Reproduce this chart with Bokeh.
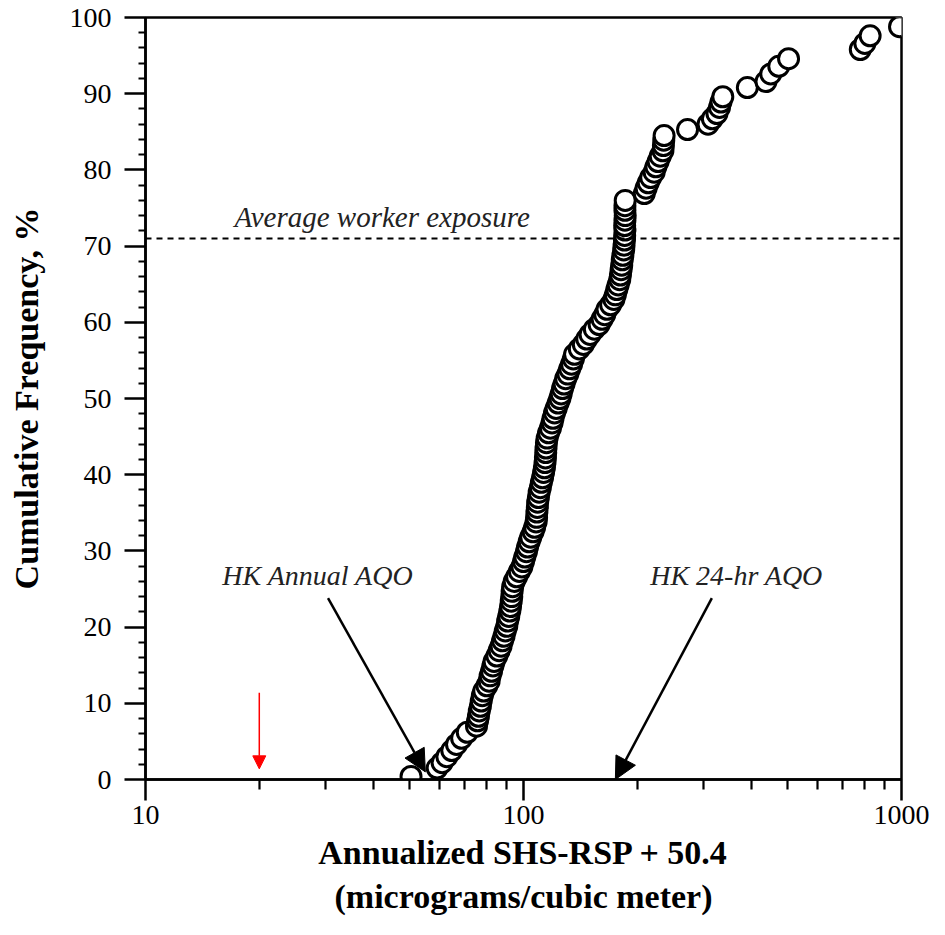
from bokeh.plotting import figure
from bokeh.models import (Range1d, FixedTicker, Span, Label, Arrow, NormalHead,
                          BasicTickFormatter, ColumnDataSource)
from bokeh.embed import file_html
from bokeh.resources import INLINE

# ---- data ----
shs_rsp = [
    50.4, 59.1, 60.9, 62.7, 64.6, 66.5, 68.6, 71.0,
    75.1, 75.6, 76.0, 76.4, 76.9, 77.3, 77.8, 78.5,
    80.0, 81.1, 81.6, 82.3, 83.0, 83.6, 85.0, 86.2, 87.2, 88.0,
    88.8, 89.5, 90.3, 90.8, 91.4, 92.0, 92.4, 92.8, 93.1, 93.3,
    93.6, 94.5, 95.9, 97.5, 99.0, 100.0, 100.8, 101.8, 102.5, 103.5,
    104.5, 106.0, 107.0, 108.0, 108.3, 108.5, 108.8, 109.0, 109.5, 110.0,
    110.8, 111.5, 112.3, 113.0, 113.6, 114.0, 114.3, 114.5, 114.7, 115.0,
    115.5, 116.5, 117.8, 119.0, 119.7, 120.8, 122.0, 123.5, 124.8, 125.8,
    126.8, 128.0, 129.3, 131.0, 132.5, 134.0, 135.5, 136.5, 140.5, 144.0,
    147.0, 150.0, 154.0, 158.5, 161.4, 164.0, 166.3, 170.0, 173.4, 175.0,
    176.5, 178.0, 179.7, 180.5, 181.2, 181.9, 182.5, 183.2, 184.1, 184.5,
    185.0, 185.2, 185.5, 185.2, 185.5, 185.8, 185.5, 185.5, 185.8,
    208.7, 211.0, 213.8, 217.0, 221.6, 224.0, 227.0, 230.0, 233.8, 234.5, 235.0, 235.5,
    271.6, 307.8, 316.0, 324.9, 330.0, 333.0, 336.7,
    391.0, 438.0, 451.0, 473.5, 502.6,
    778.0, 800.0, 826.0, 988.0,
]
cum_freq = [
    0.4, 1.5, 2.2, 3.0, 3.8, 4.6, 5.4, 6.2,
    7.0, 7.7, 8.3, 9.0, 9.6, 10.3, 11.0, 11.6,
    12.3, 12.9, 13.6, 14.2, 14.9, 15.5, 16.2, 16.9, 17.5, 18.2,
    18.8, 19.5, 20.1, 20.8, 21.4, 22.1, 22.7, 23.4, 24.0, 24.7,
    25.3, 26.0, 26.6, 27.3, 27.9, 28.6, 29.2, 29.9, 30.5, 31.2,
    31.8, 32.5, 33.1, 33.8, 34.4, 35.1, 35.7, 36.4, 37.0, 37.7,
    38.3, 39.0, 39.6, 40.3, 40.9, 41.6, 42.2, 42.9, 43.5, 44.2,
    44.8, 45.5, 46.1, 46.8, 47.4, 48.1, 48.7, 49.4, 50.0, 50.6,
    51.3, 51.9, 52.6, 53.2, 53.9, 54.5, 55.2, 55.8, 56.5, 57.1,
    57.8, 58.4, 59.1, 59.7, 60.4, 61.0, 61.7, 62.3, 63.0, 63.6,
    64.3, 64.9, 65.6, 66.2, 66.9, 67.5, 68.2, 68.8, 69.5, 70.1,
    70.8, 71.4, 72.1, 72.7, 73.4, 74.0, 74.7, 75.3, 76.0,
    76.9, 77.6, 78.3, 79.0, 79.7, 80.4, 81.1, 81.8, 82.5, 83.2, 83.9, 84.5,
    85.3, 86.0, 86.7, 87.4, 88.2, 88.9, 89.6,
    90.8, 91.6, 92.6, 93.6, 94.6,
    95.8, 96.6, 97.6, 98.8,
]

x_major_ticks = [10, 100, 1000]
x_minor_ticks = [20, 30, 40, 50, 60, 70, 80, 90, 200, 300, 400, 500, 600, 700, 800, 900]
y_major_ticks = [0, 10, 20, 30, 40, 50, 60, 70, 80, 90, 100]
y_minor_ticks = [v for v in range(0, 101, 2) if v % 10]

avg_worker_exposure = 71
hk_annual_aqo = 55
hk_24hr_aqo = 175

SERIF = "Liberation Serif"

p = figure(width=929, height=919, x_axis_type="log",
           x_range=Range1d(10, 1000), y_range=Range1d(0, 100),
           output_backend="svg", toolbar_location=None,
           min_border_left=145, min_border_right=28,
           min_border_top=17, min_border_bottom=140)
p.background_fill_color = "white"
p.border_fill_color = "white"
p.xgrid.visible = False
p.ygrid.visible = False
p.outline_line_color = "black"
p.outline_line_width = 2.5

for ax in (p.xaxis[0], p.yaxis[0]):
    ax.axis_line_width = 2.5
    ax.axis_line_color = "black"
    ax.major_tick_line_width = 2.5
    ax.minor_tick_line_width = 2.2
    ax.major_tick_in = 0
    ax.minor_tick_in = 0
    ax.major_tick_out = 21
    ax.major_label_text_font = SERIF
    ax.major_label_text_font_size = "28px"
    ax.major_label_text_color = "black"
    ax.axis_label_text_font = SERIF
    ax.axis_label_text_font_style = "bold"
    ax.axis_label_text_font_size = "34px"
    ax.axis_label_text_color = "black"

p.xaxis.ticker = FixedTicker(ticks=x_major_ticks, minor_ticks=x_minor_ticks)
p.xaxis.formatter = BasicTickFormatter()
p.xaxis.minor_tick_out = 10
p.xaxis.major_label_standoff = 5
p.xaxis.axis_label = "Annualized SHS-RSP + 50.4\n(micrograms/cubic meter)"
p.xaxis.axis_label_standoff = 7

p.yaxis.ticker = FixedTicker(ticks=y_major_ticks, minor_ticks=y_minor_ticks)
p.yaxis.minor_tick_out = 7
p.yaxis.major_label_standoff = 13
p.yaxis.axis_label = "Cumulative Frequency, %"
p.yaxis.axis_label_standoff = 22

p.add_layout(Span(location=avg_worker_exposure, dimension="width",
                  line_color="black", line_width=2.2, line_dash="6 5"))

src = ColumnDataSource(data=dict(x=shs_rsp, y=cum_freq))
p.scatter("x", "y", source=src, size=20, fill_color="white",
          line_color="black", line_width=3)

p.add_layout(Label(x=17.2, y=73.8, text="Average worker exposure",
                   text_font=SERIF, text_font_style="italic",
                   text_font_size="29px", text_color="#222222",
                   text_align="left", text_baseline="alphabetic"))
p.add_layout(Label(x=28.6, y=26.8, text="HK Annual AQO",
                   text_font=SERIF, text_font_style="italic",
                   text_font_size="28px", text_color="#222222",
                   text_align="center", text_baseline="alphabetic"))
p.add_layout(Label(x=366, y=26.8, text="HK 24-hr AQO",
                   text_font=SERIF, text_font_style="italic",
                   text_font_size="28px", text_color="#222222",
                   text_align="center", text_baseline="alphabetic"))

p.add_layout(Arrow(end=NormalHead(size=22, fill_color="black", line_color="black"),
                   x_start=30.4, y_start=23.8, x_end=hk_annual_aqo, y_end=1.0,
                   line_color="black", line_width=2.5))
p.add_layout(Arrow(end=NormalHead(size=22, fill_color="black", line_color="black"),
                   x_start=315, y_start=23.8, x_end=hk_24hr_aqo, y_end=0.0,
                   line_color="black", line_width=2.5))
p.add_layout(Arrow(end=NormalHead(size=13, fill_color="red", line_color="red"),
                   x_start=20, y_start=11.4, x_end=20, y_end=1.4,
                   line_color="red", line_width=1.5))

open("out.html", "w").write(file_html(p, INLINE))
